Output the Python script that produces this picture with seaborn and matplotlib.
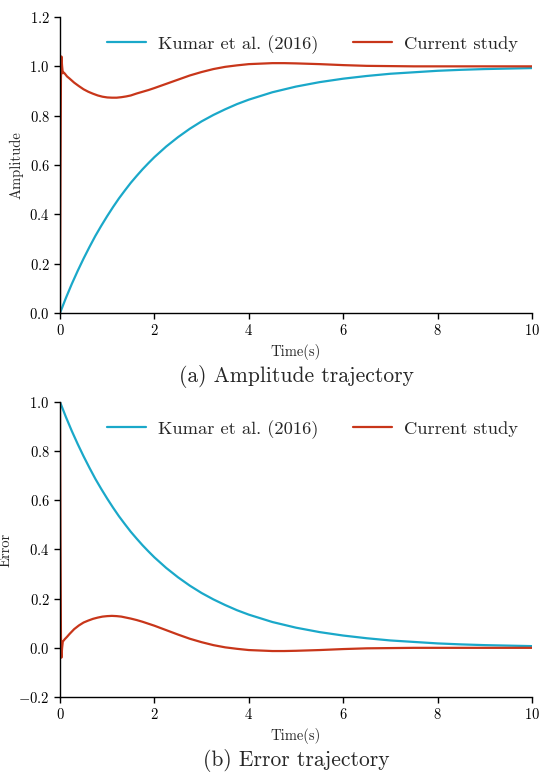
import matplotlib
matplotlib.use("Agg")
import matplotlib.pyplot as plt
import numpy as np
import pandas as pd
import seaborn as sns

# ---- data ----
t_kumar = [0.0, 0.125, 0.25, 0.375, 0.5, 0.625, 0.75, 0.875, 1.0, 1.125, 1.25, 1.375,
           1.5, 1.625, 1.75, 1.875, 2.0, 2.25, 2.5, 2.75, 3.0, 3.25, 3.5, 3.75, 4.0,
           4.5, 5.0, 5.5, 6.0, 6.5, 7.0, 7.5, 8.0, 8.5, 9.0, 9.5, 10.0]
amp_kumar = [0.0, 0.061, 0.118, 0.171, 0.221, 0.268, 0.313, 0.354, 0.393, 0.430, 0.465,
             0.497, 0.528, 0.556, 0.583, 0.608, 0.632, 0.675, 0.713, 0.747, 0.777, 0.803,
             0.826, 0.847, 0.865, 0.895, 0.918, 0.936, 0.950, 0.961, 0.970, 0.976, 0.982,
             0.986, 0.989, 0.991, 0.993]
err_kumar = [1.0, 0.939, 0.882, 0.829, 0.779, 0.732, 0.687, 0.646, 0.607, 0.570, 0.535,
             0.503, 0.472, 0.444, 0.417, 0.392, 0.368, 0.325, 0.287, 0.253, 0.223, 0.197,
             0.174, 0.153, 0.135, 0.105, 0.082, 0.064, 0.050, 0.039, 0.030, 0.024, 0.018,
             0.014, 0.011, 0.009, 0.007]

t_curr = [0.0, 0.01, 0.02, 0.03, 0.045, 0.06, 0.08, 0.1, 0.15, 0.2, 0.3, 0.4, 0.5, 0.6,
          0.7, 0.8, 0.9, 1.0, 1.1, 1.2, 1.3, 1.4, 1.5, 1.625, 1.75, 1.875, 2.0, 2.25,
          2.5, 2.75, 3.0, 3.25, 3.5, 3.75, 4.0, 4.25, 4.5, 4.75, 5.0, 5.5, 6.0, 6.5,
          7.0, 7.5, 8.0, 9.0, 10.0]
amp_curr = [0.0, 0.55, 0.95, 1.04, 1.0, 0.972, 0.975, 0.971, 0.959, 0.951, 0.934, 0.920,
            0.907, 0.897, 0.889, 0.882, 0.877, 0.874, 0.873, 0.873, 0.875, 0.878, 0.882,
            0.890, 0.897, 0.904, 0.912, 0.929, 0.946, 0.963, 0.977, 0.989, 0.998, 1.004,
            1.009, 1.011, 1.013, 1.013, 1.012, 1.009, 1.005, 1.002, 1.001, 1.0, 1.0,
            1.0, 1.0]
err_curr = [1.0, 0.45, 0.05, -0.04, 0.0, 0.026, 0.030, 0.035, 0.045, 0.056, 0.076, 0.091,
            0.103, 0.111, 0.118, 0.123, 0.127, 0.129, 0.130, 0.129, 0.127, 0.123, 0.119,
            0.113, 0.106, 0.098, 0.090, 0.072, 0.054, 0.037, 0.023, 0.011, 0.002, -0.004,
            -0.009, -0.011, -0.013, -0.013, -0.012, -0.009, -0.005, -0.002, -0.001, 0.0,
            0.0, 0.0, 0.0]

labels = ["Kumar et al. (2016)", "Current study"]
colors = ["#1aa8c9", "#c8361a"]

amp_df = pd.concat([
    pd.DataFrame({"t": t_kumar, "v": amp_kumar, "series": labels[0]}),
    pd.DataFrame({"t": t_curr, "v": amp_curr, "series": labels[1]}),
])
err_df = pd.concat([
    pd.DataFrame({"t": t_kumar, "v": err_kumar, "series": labels[0]}),
    pd.DataFrame({"t": t_curr, "v": err_curr, "series": labels[1]}),
])

sns.set_style("ticks")
plt.rcParams.update({
    "font.family": "serif",
    "font.serif": ["cmr10", "DejaVu Serif"],
    "mathtext.fontset": "cm",
    "axes.formatter.use_mathtext": True,
    "axes.edgecolor": "black",
    "xtick.color": "black",
    "ytick.color": "black",
    "axes.linewidth": 1.0,
})

fig = plt.figure(figsize=(5.39, 7.73), dpi=100)
ax1 = fig.add_axes([0.1113, 0.595, 0.8757, 0.383])
ax2 = fig.add_axes([0.1113, 0.0983, 0.8757, 0.3817])

pal = dict(zip(labels, colors))
for ax, df, ylab, ylim, yt, sub in [
    (ax1, amp_df, "Amplitude", (0, 1.2), np.arange(0, 1.21, 0.2), "(a) Amplitude trajectory"),
    (ax2, err_df, "Error", (-0.2, 1.0), np.arange(-0.2, 1.01, 0.2), "(b) Error trajectory"),
]:
    sns.lineplot(data=df, x="t", y="v", hue="series", palette=pal, ax=ax,
                 estimator=None, sort=False, linewidth=1.6, hue_order=labels)
    ax.set_xlim(0, 10)
    ax.set_ylim(*ylim)
    ax.set_yticks(yt)
    ax.set_xticks([0, 2, 4, 6, 8, 10])
    ax.set_xlabel("Time(s)", fontsize=10.5, labelpad=4)
    ax.set_ylabel(ylab, fontsize=10.5, labelpad=4)
    ax.tick_params(labelsize=10.5, length=4, width=1)
    sns.despine(ax=ax)
    ax.legend(loc="upper right", bbox_to_anchor=(1.006, 0.995), ncol=2, frameon=False,
              fontsize=13.3, handlelength=2.1, columnspacing=1.9, handletextpad=0.65)
    ax.text(0.5, -0.215, sub, transform=ax.transAxes, ha="center", va="center", fontsize=15.5)

fig.savefig("out.png", dpi=100)
